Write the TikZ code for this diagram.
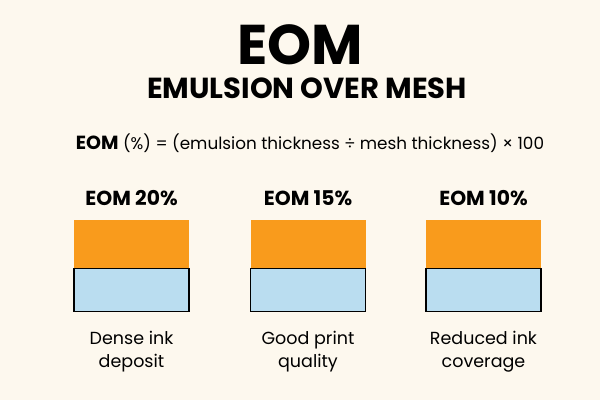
\documentclass[tikz,border=0pt]{standalone}
\usepackage{fontspec}
\setmainfont{Poppins}
\definecolor{bg}{HTML}{FDF8EE}
\definecolor{ink}{HTML}{F99B1C}
\definecolor{mesh}{HTML}{BADDF0}
\begin{document}
\begin{tikzpicture}[x=1pt,y=-1pt,
  title/.style={font=\fontsize{56}{60}\selectfont\bfseries},
  subtitle/.style={font=\fontsize{29}{32}\selectfont\bfseries},
  formula/.style={font=\fontsize{16.8}{20}\selectfont},
  label/.style={font=\fontsize{20.3}{23}\selectfont\bfseries},
  caption/.style={font=\fontsize{17.5}{23}\selectfont, align=center},
  inkbox/.style={fill=ink, draw=none},
  meshbox/.style={fill=mesh, draw=black, line width=1.2pt}]
\fill[bg] (0,0) rectangle (600,400);
\useasboundingbox (0,0) rectangle (600,400);
\node[title] (t) at (300,45) {EOM};
\node[subtitle] (st) at (307,88) {EMULSION OVER MESH};
\node[formula] (f) at (310,143) {{\fontsize{19}{20}\selectfont\bfseries EOM} (\%) = (emulsion thickness ÷ mesh thickness) × 100};
\foreach \x/\p/\c [count=\i] in {74/20/{Dense ink\\deposit},250.5/15/{Good print\\quality},426/10/{Reduced ink\\coverage}}{
  \node[label] (l\i) at (\x+57.5,198) {EOM \p\%};
  \path[inkbox] (\x,220) rectangle (\x+115,268.5);
  \draw[meshbox] (\x,268.5) rectangle (\x+115,311.5);
  \node[caption] (c\i) at (\x+57.5,352) {\c};
}
\end{tikzpicture}
\end{document}
